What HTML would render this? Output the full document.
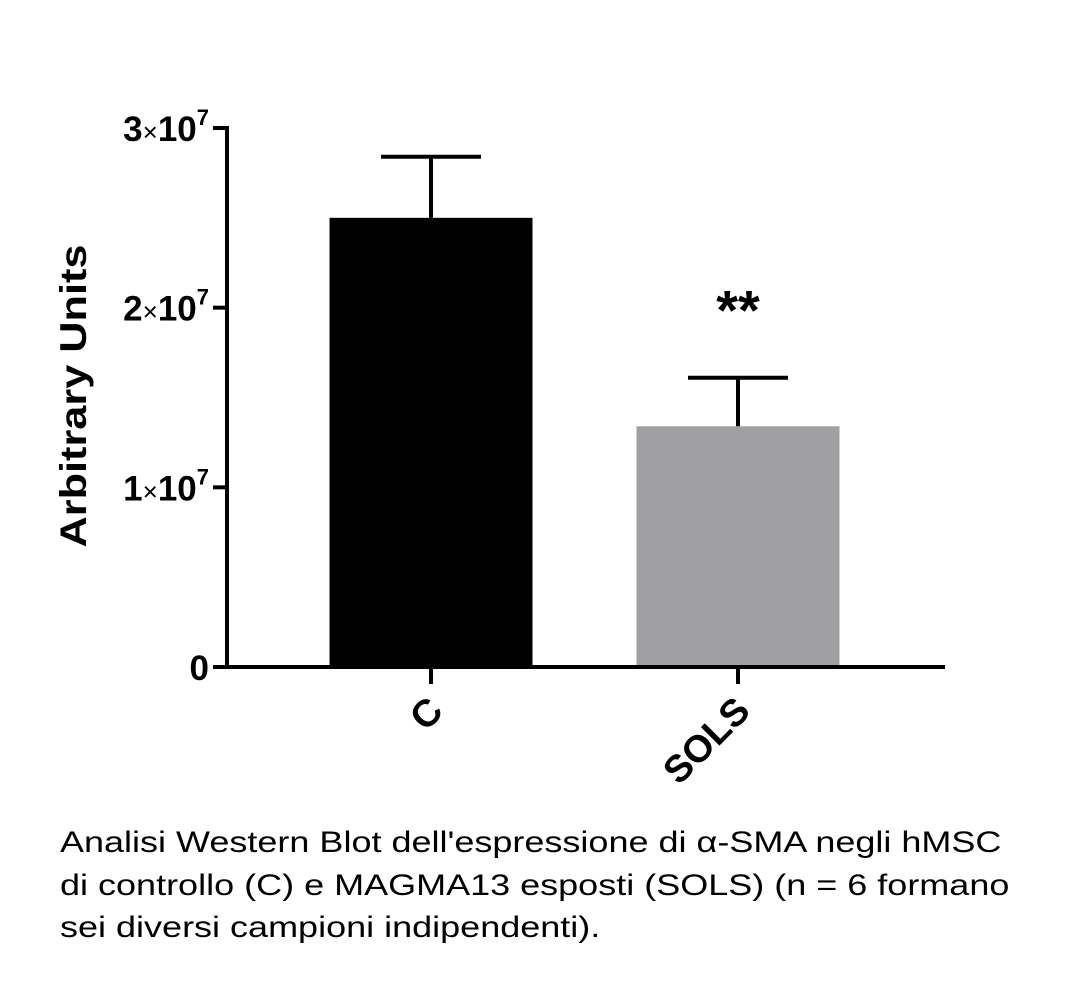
<!DOCTYPE html>
<html><head><meta charset="utf-8"><style>
body{margin:0;background:#fff;width:1080px;height:996px;overflow:hidden;font-family:"Liberation Sans",Arial,sans-serif}
svg text{font-family:"Liberation Sans",Arial,sans-serif}
#cap{position:absolute;left:60px;top:822px;font-size:30px;line-height:42.5px;color:#000;white-space:nowrap;transform:scaleX(1.2);transform-origin:0 0}
</style></head><body>
<svg id="chart" width="1080" height="820" style="position:absolute;left:0;top:0"></svg>
<div id="cap">Analisi Western Blot dell'espressione di α-SMA negli hMSC<br>di controllo (C) e MAGMA13 esposti (SOLS) (n = 6 formano<br>sei diversi campioni indipendenti).</div>
<script>
const categories=["C","SOLS"];
const means=[2.5e7,1.34e7];
const errors=[0.34e7,0.27e7];
const colors=["#000000","#a0a0a2"];
const tickValues=[0,1e7,2e7,3e7];
const tickMant=["0","1","2","3"];
const sig=["","**"];
const NS="http://www.w3.org/2000/svg";
const svg=document.getElementById("chart");
const x0=227,y0=667,yTop=128,vmax=3e7;
const y=v=>y0-(v/vmax)*(y0-yTop);
const xc=i=>431+i*307;
const bw=203;
function mk(t,a){const e=document.createElementNS(NS,t);for(const k in a)e.setAttribute(k,a[k]);svg.appendChild(e);return e;}
categories.forEach((c,i)=>{
 const r=mk("rect",{x:xc(i)-bw/2,y:y(means[i]),width:bw,height:y0-y(means[i]),fill:colors[i]});
 
 
 const g=mk("path",{d:`M${xc(i)} ${y(means[i])}V${y(means[i]+errors[i])}M${xc(i)-50} ${y(means[i]+errors[i])}H${xc(i)+50}`,stroke:"#000","stroke-width":4,fill:"none"});
 
 
 const t=mk("line",{x1:xc(i),x2:xc(i),y1:y0,y2:y0+17,stroke:"#000","stroke-width":4});
 
 
 const l=mk("text",{transform:`translate(${xc(i)+14},${y0+46}) rotate(-45)`,"text-anchor":"end","font-size":38,"font-weight":"bold"});
 l.textContent=c;
 
 
 if(sig[i]){const s=mk("text",{x:xc(i),y:y(means[i]+errors[i])-48,"text-anchor":"middle","font-size":56,"font-weight":"bold"});
 s.textContent=sig[i];
 
 }
});
const ax=mk("path",{d:`M${x0} ${yTop-2}V${y0}H945`,stroke:"#000","stroke-width":4,fill:"none"});


tickValues.forEach((v,i)=>{
 const t=mk("line",{x1:x0-14,x2:x0,y1:y(v),y2:y(v),stroke:"#000","stroke-width":4});
 
 
 const l=mk("text",{x:x0-18,y:y(v)+13,"text-anchor":"end","font-size":35,"font-weight":"bold"});
 if(v===0){l.textContent="0";}else{l.innerHTML=`${tickMant[i]}<tspan font-size="26" font-weight="normal">×</tspan>10<tspan dy="-16" font-size="22">7</tspan>`;}
 
 
});
const yt=mk("text",{transform:"translate(86,396) rotate(-90)","text-anchor":"middle","font-size":37,"font-weight":"bold",textLength:303,lengthAdjust:"spacingAndGlyphs"});
yt.textContent="Arbitrary Units";


</script>
</body></html>
